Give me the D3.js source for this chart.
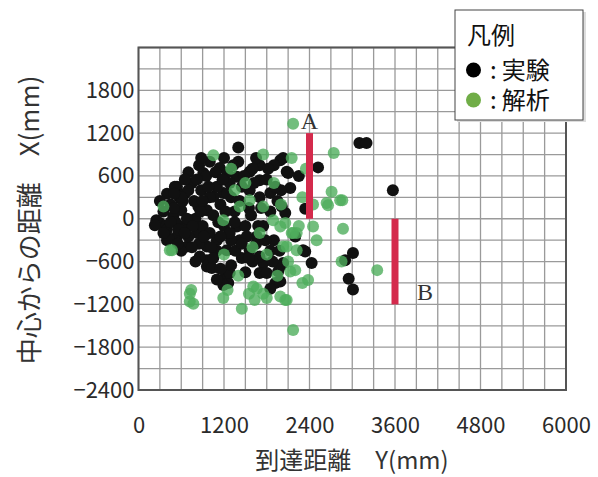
<!DOCTYPE html>
<html>
<head>
<meta charset="utf-8">
<script src="https://cdn.jsdelivr.net/npm/d3@7"></script>
<style>
  body { margin: 0; background: #fff; }
  svg { display: block; }
  text { font-family: "Noto Sans CJK JP", "Noto Sans", sans-serif; }
</style>
</head>
<body>
<svg id="chart" width="598" height="477"></svg>
<script>
// 実験 (black) points: [Y(mm) reach, X(mm) from centre]
const expPoints = [
  [3100, 1060], [3200, 1060], [1400, 1000], [2520, 720], [3570, 400], [2340, 140],
  [2430, -620], [2340, -460], [3010, -480], [2900, -580], [2950, -840], [3010, -990],
  [2030, -620], [1960, -740], [1990, -880], [1920, -900], [1850, -980], [1750, -620],
  [1700, -760], [1990, -670], [1800, -760], [1700, -530], [1210, -830], [1260, -900],
  [1190, -930], [1280, -760], [1000, -620], [960, -670], [960, -580], [1030, -690],
  [860, -530], [960, -390], [1100, -300], [1240, -440], [680, -390], [820, -200],
  [720, -20], [840, 170], [960, 120], [490, 30], [630, -110], [540, -250], [400, -300],
  [300, -60], [250, -20], [420, -270], [230, -90], [540, 450], [580, 290], [510, 450],
  [910, 640], [1140, 710], [1380, 590], [1560, 660], [1700, 750], [1990, 820],
  [2080, 660], [2130, 430], [2030, 850], [2100, 640], [2010, 170], [2060, 80],
  [2310, -440], [1560, 400], [1700, 540], [1850, 360], [1280, 500], [1190, 360],
  [1050, 310], [1380, -110], [1420, -300], [1560, -440], [1660, -250],
  [350, 100], [400, -150], [450, 200], [520, -50], [600, 120], [650, 350], [700, -250],
  [750, 500], [780, 250], [800, 0], [850, -350], [880, 400], [900, -100], [950, 600],
  [1000, 300], [1000, -200], [1050, 50], [1100, 450], [1100, -450], [1150, 200],
  [1200, -100], [1250, 650], [1300, 300], [1300, -300], [1350, 100], [1400, 800],
  [1450, 450], [1450, -550], [1500, -100], [1550, 150], [1600, 700], [1650, -350],
  [1700, 300], [1750, -100], [1800, 550], [1850, -450], [1900, 750], [1950, 250],
  [600, -450], [700, 650], [850, 750], [1200, 850], [1300, -650], [1500, -750],
  [1600, -600], [1150, -700], [800, -600], [650, 550], [550, -350], [400, 350],
  [300, 250], [1900, -300], [2000, 400], [1850, 100], [2200, -250], [2250, 600],
  [1650, 850], [1000, 800], [1100, -850],
  [350, -200], [450, -50], [500, 150], [560, -150], [620, 250], [680, 0], [700, 400],
  [760, -100], [820, 550], [870, 100], [920, -250], [980, 450], [1020, -400],
  [1080, 650], [1120, -50], [1180, 550], [1220, 100], [1280, -200], [1330, 750],
  [1360, -450], [1420, 250], [1480, 600], [1520, -250], [1580, 50], [1620, 500],
  [1680, -100], [1720, 150], [1780, -300], [1820, 700], [1880, -600], [1920, 450],
  [1980, -450], [600, 300], [750, -400], [900, 250], [1150, -250], [1250, 350],
  [1350, -50], [1450, -350], [1550, -550], [650, -200], [500, 350], [880, 850],
  [1050, -550]
];

// 解析 (green) points
const anaPoints = [
  [2170, 1330], [1050, 890], [2740, 920], [2710, 380], [2640, 220], [2830, 260],
  [2860, 260], [2660, 190], [2450, -110], [2870, -140], [2060, -60], [2170, -200],
  [2030, -390], [2850, -600], [3350, -720], [2130, -740], [2380, -860], [2060, -1140],
  [2170, -1560], [740, -1000], [720, -1160], [1190, -1110], [1450, -1260], [1660, -980],
  [1630, -1140], [1800, -1110], [2080, -1140], [440, -440], [2200, -720], [2220, -200],
  [350, 170], [470, -440], [1190, -20], [1420, 170], [1560, 260], [1750, 170],
  [1890, -20], [1990, -110], [2150, -200], [2220, -440], [2080, -390], [1610, -950],
  [1750, -1050], [1990, -1090], [720, -1050], [770, -1190],
  [1300, 700], [1500, 500], [1700, -200], [1800, -500], [1900, 500], [2000, 200],
  [2100, -600], [2250, -100], [2300, 300], [2350, 700], [1400, -800], [1600, -400],
  [1200, -500], [1750, 900], [2150, 850], [1950, -800],
  [1350, 400], [2300, -900], [2450, 200], [2500, -300], [1250, -1000],
  [1550, -1050]
];

// red range bars
const barNames = ["A", "B"];
const barX = [2400, 3600];
const barLow = [0, -1200];
const barHigh = [1200, 0];

const xTicks = [0, 1200, 2400, 3600, 4800, 6000];
const yTicks = [-2400, -1800, -1200, -600, 0, 600, 1200, 1800];
const gridStep = 300;

const legendTitle = "凡例";
const legendItems = ["実験", "解析"];
const xTitle = "到達距離　Y(mm)";
const yTitle = "中心からの距離　X(mm)";

const svg = d3.select('#chart');
const plot = { left: 138.5, right: 566, top: 47.5, bottom: 390 };

const x = d3.scaleLinear().domain([0, 6000]).range([plot.left, plot.right]);
const y = d3.scaleLinear().domain([-2400, 2400]).range([plot.bottom, plot.top]);

// grid
const grid = svg.append('g').attr('stroke', '#9a9a9a').attr('stroke-width', 1.3);
grid.selectAll('.vg')
    .data(d3.range(0, 6001, gridStep))
    .enter().append('line')
    .attr('x1', d => x(d)).attr('x2', d => x(d))
    .attr('y1', plot.top).attr('y2', plot.bottom);
grid.selectAll('.hg')
    .data(d3.range(-2400, 2401, gridStep))
    .enter().append('line')
    .attr('y1', d => y(d)).attr('y2', d => y(d))
    .attr('x1', plot.left).attr('x2', plot.right);

svg.append('rect')
   .attr('x', plot.left).attr('y', plot.top)
   .attr('width', plot.right - plot.left).attr('height', plot.bottom - plot.top)
   .attr('fill', 'none').attr('stroke', '#555').attr('stroke-width', 2);

// axes
const fmt = d3.format('d');
const xAxis = d3.axisBottom(x).tickValues(xTicks).tickFormat(fmt).tickSize(0).tickPadding(0);
const gx = svg.append('g').attr('transform', `translate(0, ${plot.bottom + 27})`).call(xAxis);
gx.select('.domain').remove();
gx.selectAll('text').attr('font-size', 22).attr('fill', '#2a2a2a')
  .style('font-family', '"Noto Sans CJK JP", sans-serif');

const yAxis = d3.axisLeft(y).tickValues(yTicks).tickFormat(fmt).tickSize(0).tickPadding(0);
const gy = svg.append('g').attr('transform', `translate(${plot.left - 4}, 0)`).call(yAxis);
gy.select('.domain').remove();
gy.selectAll('text').attr('font-size', 22).attr('fill', '#2a2a2a')
  .style('font-family', '"Noto Sans CJK JP", sans-serif');

// titles
svg.append('text')
   .attr('x', 352).attr('y', 469)
   .attr('text-anchor', 'middle')
   .attr('font-size', 24).attr('fill', '#333')
   .text(xTitle);

svg.append('text')
   .attr('transform', 'translate(39, 220) rotate(-90)')
   .attr('text-anchor', 'middle')
   .attr('font-size', 26).attr('fill', '#333')
   .text(yTitle);

// points
svg.append('g').selectAll('circle')
   .data(expPoints).enter().append('circle')
   .attr('cx', d => x(d[0])).attr('cy', d => y(d[1]))
   .attr('r', 6).attr('fill', '#111');

svg.append('g').selectAll('circle')
   .data(anaPoints).enter().append('circle')
   .attr('cx', d => x(d[0])).attr('cy', d => y(d[1]))
   .attr('r', 6).attr('fill', '#4fae5c').attr('fill-opacity', 0.8);

// red bars with labels
const bars = barX.map((v, i) => ({ name: barNames[i], x: v, lo: barLow[i], hi: barHigh[i] }));
svg.append('g').selectAll('rect')
   .data(bars).enter().append('rect')
   .attr('x', d => x(d.x) - 3.5).attr('width', 7)
   .attr('y', d => y(d.hi)).attr('height', d => y(d.lo) - y(d.hi))
   .attr('fill', '#d42a4c');

svg.append('text')
   .attr('x', x(bars[0].x)).attr('y', y(bars[0].hi) - 4)
   .attr('text-anchor', 'middle')
   .style('font-family', '"Liberation Serif", serif')
   .attr('font-size', 24).attr('fill', '#333')
   .text(bars[0].name);

svg.append('text')
   .attr('x', x(bars[1].x) + 30).attr('y', y(bars[1].lo) - 4)
   .attr('text-anchor', 'middle')
   .style('font-family', '"Liberation Serif", serif')
   .attr('font-size', 24).attr('fill', '#333')
   .text(bars[1].name);

// legend
const lg = svg.append('g').attr('transform', 'translate(455, 10)');
lg.append('rect').attr('x', 2).attr('y', 2).attr('width', 129).attr('height', 110).attr('fill', '#ddd');
lg.append('rect').attr('width', 128).attr('height', 110)
  .attr('fill', '#fff').attr('stroke', '#444').attr('stroke-width', 1);
lg.append('text').attr('x', 12).attr('y', 34).attr('font-size', 24).attr('fill', '#111').text(legendTitle);
const legendColors = ['#000', '#70ad47'];
legendItems.forEach((name, i) => {
  const cy = 60 + i * 30;
  lg.append('circle').attr('cx', 18.5).attr('cy', cy).attr('r', 7.5).attr('fill', legendColors[i]);
  const t = lg.append('text').attr('x', 35).attr('y', cy + 9).attr('font-size', 24).attr('fill', '#111');
  t.append('tspan').text(':');
  t.append('tspan').attr('dx', 5).text(name);
});
</script>
</body>
</html>
